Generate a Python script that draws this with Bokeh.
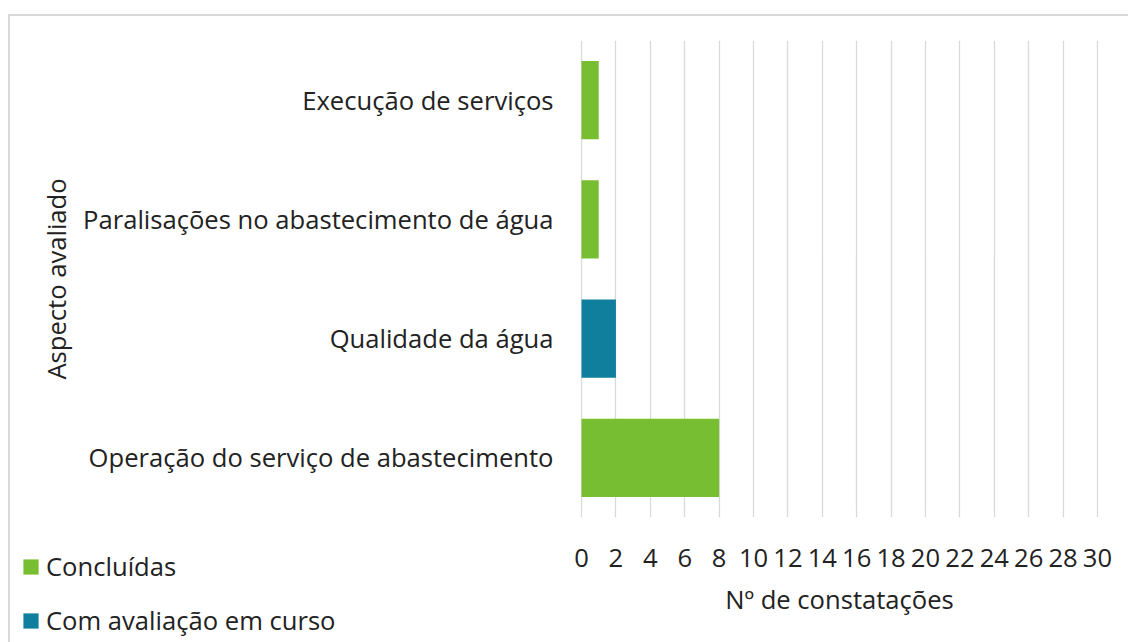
from bokeh.plotting import figure
from bokeh.models import Range1d, FactorRange, FixedTicker, Legend, LegendItem
from bokeh.embed import file_html
from bokeh.resources import INLINE

categories = ["Operação do serviço de abastecimento", "Qualidade da água",
              "Paralisações no abastecimento de água", "Execução de serviços"]
concluidas = [8, 0, 1, 1]
em_curso = [0, 2, 0, 0]
series_names = ["Concluídas", "Com avaliação em curso"]
colors = ["#78BE32", "#0F7F9D"]
x_ticks = list(range(0, 31, 2))

FONT = "Open Sans"
FS = "25.6px"
TXT = "#222222"
W, H = 1128, 642

p = figure(width=W, height=H, y_range=FactorRange(*categories),
           x_range=Range1d(-0.06, 30.06), output_backend="svg", toolbar_location=None,
           min_border_left=580, min_border_right=30, min_border_top=40,
           min_border_bottom=125)
p.border_fill_color = None
p.styles = {"background": "linear-gradient(#d9d9d9,#d9d9d9) 8px 14px / 2px calc(100% - 14px) no-repeat, "
                          "linear-gradient(#d9d9d9,#d9d9d9) 8px 14px / calc(100% - 8px) 2px no-repeat, #ffffff"}

data = {"cat": categories, "c": concluidas, "e": em_curso}
rs = p.hbar_stack(["c", "e"], y="cat", height=0.655, color=colors, source=data,
                  line_width=0)

p.outline_line_color = None
p.ygrid.grid_line_color = None
p.xgrid.grid_line_color = "#d9d9d9"
p.xgrid.grid_line_width = 1.3
p.xaxis.ticker = FixedTicker(ticks=x_ticks)

for ax in (p.xaxis[0], p.yaxis[0]):
    ax.axis_line_color = None
    ax.major_tick_line_color = None
    ax.minor_tick_line_color = None
    ax.major_tick_out = 0
    ax.major_label_text_font = FONT
    ax.major_label_text_font_size = FS
    ax.major_label_text_color = TXT
    ax.axis_label_text_font = FONT
    ax.axis_label_text_font_size = FS
    ax.axis_label_text_color = TXT
    ax.axis_label_text_font_style = "normal"

p.xaxis.axis_label = "Nº de constatações"
p.yaxis.axis_label = "Aspecto avaliado"
p.xaxis.major_label_standoff = 31
p.xaxis.axis_label_standoff = 12
p.yaxis.major_label_standoff = 27
p.yaxis.axis_label_standoff = 6

# small transparent legend figure, laid over the bottom-left corner of the chart
LW, LH = 360, 104
q = figure(width=LW, height=LH, y_range=FactorRange(*categories), x_range=Range1d(0, 30),
           x_axis_type=None, y_axis_type=None, output_backend="svg",
           toolbar_location=None, min_border=0)
q.border_fill_color = None
q.background_fill_color = None
q.outline_line_color = None
q.xgrid.visible = False
q.ygrid.visible = False
q.styles = {"position": "absolute", "left": "0px", "top": f"{H - LH}px"}
qs = q.hbar_stack(["c", "e"], y="cat", height=0.655, color=colors, source=data,
                  line_width=0, visible=False)

legend = Legend(items=[LegendItem(label=series_names[i], renderers=[qs[i]]) for i in range(2)],
                location=(21, 4), orientation="vertical",
                label_text_font=FONT, label_text_font_size=FS, label_text_color=TXT,
                glyph_width=19, glyph_height=19, label_standoff=6,
                label_height=33, spacing=19, padding=0, margin=0,
                inactive_fill_alpha=0,
                border_line_color=None, background_fill_alpha=0)
q.add_layout(legend, "center")

open("out.html", "w").write(file_html([p, q], INLINE))
